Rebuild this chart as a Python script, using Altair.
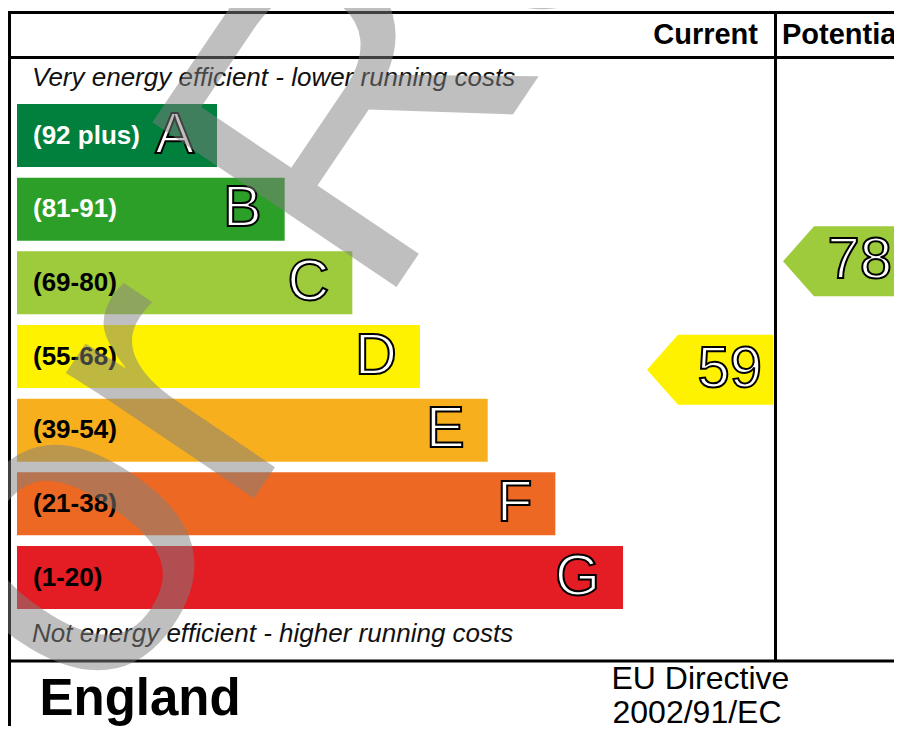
import altair as alt
import pandas as pd

# ---------------- data ----------------
bands = ["A", "B", "C", "D", "E", "F", "G"]
ranges = ["(92 plus)", "(81-91)", "(69-80)", "(55-68)", "(39-54)", "(21-38)", "(1-20)"]
range_lo = [92, 81, 69, 55, 39, 21, 1]
range_hi = [100, 91, 80, 68, 54, 38, 20]
current_rating = 59
potential_rating = 78
headers = ["Current", "Potential"]
top_note = "Very energy efficient - lower running costs"
bottom_note = "Not energy efficient - higher running costs"
country = "England"
directive = ["EU Directive", "2002/91/EC"]
watermark = "For\u2005Reference Only"

# ---------------- styles ----------------
band_colors = ["#007f3d", "#2c9f29", "#9dcb3c", "#fff200", "#f7af1d", "#ed6823", "#e31d23"]
range_text_colors = ["white", "white", "black", "black", "black", "black", "black"]
FONT = "Liberation Sans"

# ---------------- layout (pixel frame of the picture) ----------------
W, H = 886, 718
BAR_X0 = 17
BAR_LEN0 = 200
BAR_STEP = 67.67
ROW_Y0 = 104
ROW_STEP = 73.67
ROW_H = 63
COL_DIV = 775.5
ARROW_HALF_W = 63

xs = alt.Scale(domain=[8, 8 + W], nice=False, zero=False)
ys = alt.Scale(domain=[8, 8 + H], nice=False, zero=False, reverse=True)


def X(f="x"):
    return alt.X(f"{f}:Q", scale=xs, axis=None)


def Y(f="y"):
    return alt.Y(f"{f}:Q", scale=ys, axis=None)


def band_of(v):
    for i, (lo, hi) in enumerate(zip(range_lo, range_hi)):
        if lo <= v <= hi:
            return i
    return len(bands) - 1


def rating_y(v):
    i = band_of(v)
    lo, hi = range_lo[i], range_hi[i]
    mid = (lo + hi) / 2
    return ROW_Y0 + i * ROW_STEP + ROW_H / 2 + (mid - v) / (hi - lo + 1) * ROW_STEP


# bars
bars_df = pd.DataFrame({
    "band": bands,
    "label": ranges,
    "color": band_colors,
    "tcolor": range_text_colors,
    "x": [BAR_X0] * len(bands),
    "x2": [BAR_X0 + BAR_LEN0 + BAR_STEP * i for i in range(len(bands))],
    "y": [ROW_Y0 + ROW_STEP * i for i in range(len(bands))],
    "y2": [ROW_Y0 + ROW_STEP * i + ROW_H for i in range(len(bands))],
})
bars_df["yc"] = (bars_df["y"] + bars_df["y2"]) / 2
bars_df["lx"] = 33
bars_df["bx"] = bars_df["x2"] - 23

bars = alt.Chart(bars_df).mark_rect().encode(
    x=X("x"), x2="x2", y=Y("y"), y2="y2", color=alt.Color("color:N", scale=None)
)
range_text = alt.Chart(bars_df).mark_text(
    align="left", baseline="middle", font=FONT, fontWeight="bold", fontSize=26
).encode(x=X("lx"), y=Y("yc"), text="label:N", color=alt.Color("tcolor:N", scale=None))
band_text = alt.Chart(bars_df).mark_text(
    align="right", baseline="middle", font=FONT, fontSize=58,
    color="white", stroke="black", strokeWidth=2
).encode(x=X("bx"), y=Y("yc"), text="band:N")

# frame lines
lines_df = pd.DataFrame({
    "x": [9, 9, 9, 9.5, COL_DIV],
    "x2": [902, 902, 902, 9.5, COL_DIV],
    "y": [12.5, 57.5, 661, 11, 11],
    "y2": [12.5, 57.5, 661, 738, 661],
})
lines = alt.Chart(lines_df).mark_rule(color="black", strokeWidth=3).encode(
    x=X("x"), x2="x2", y=Y("y"), y2="y2"
)

# headers
head_df = pd.DataFrame({"t": headers, "x": [758, 782], "y": [44, 44]})
head_cur = alt.Chart(head_df.iloc[[0]]).mark_text(
    align="right", baseline="alphabetic", font=FONT, fontWeight="bold", fontSize=29, color="black"
).encode(x=X(), y=Y(), text="t:N")
head_pot = alt.Chart(head_df.iloc[[1]]).mark_text(
    align="left", baseline="alphabetic", font=FONT, fontWeight="bold", fontSize=29, color="black"
).encode(x=X(), y=Y(), text="t:N")

# notes
notes_df = pd.DataFrame({"t": [top_note, bottom_note], "x": [32, 32], "y": [86, 642]})
notes = alt.Chart(notes_df).mark_text(
    align="left", baseline="alphabetic", font=FONT, fontStyle="italic", fontSize=26, color="#111"
).encode(x=X(), y=Y(), text="t:N")

# footer
eng_df = pd.DataFrame({"t": [country], "x": [39.5], "y": [715]})
eng = alt.Chart(eng_df).mark_text(
    align="left", baseline="alphabetic", font=FONT, fontWeight="bold", fontSize=51, color="black"
).encode(x=X(), y=Y(), text="t:N")
dir_df = pd.DataFrame({"t": directive, "x": [611.5, 612.5], "y": [689, 723]})
dirt = alt.Chart(dir_df).mark_text(
    align="left", baseline="alphabetic", font=FONT, fontSize=32, color="black"
).encode(x=X(), y=Y(), text="t:N")

# rating arrows
arrow_path = "M -1.8 0 L -0.914 -1 L 1.8 -1 L 1.8 1 L -0.914 1 Z"
arr_df = pd.DataFrame({
    "v": [current_rating, potential_rating],
    "x": [COL_DIV - 2.5 - ARROW_HALF_W, COL_DIV + 7.5 + ARROW_HALF_W],
    "y": [rating_y(current_rating), rating_y(potential_rating)],
    "color": [band_colors[band_of(current_rating)], band_colors[band_of(potential_rating)]],
})
arr_df["tx"] = [arr_df["x"][0] + 52, min(arr_df["x"][1] + 52, 892)]
arr_df["t"] = arr_df["v"].astype(str)
arrows = alt.Chart(arr_df).mark_point(
    shape=arrow_path, size=4900, filled=True, opacity=1, strokeWidth=0
).encode(x=X(), y=Y(), color=alt.Color("color:N", scale=None))
arrow_text = alt.Chart(arr_df).mark_text(
    align="right", baseline="middle", font=FONT, fontSize=58,
    color="white", stroke="black", strokeWidth=2
).encode(x=X("tx"), y=Y(), text="t:N")

# watermark
wm_df = pd.DataFrame({"t": [watermark], "x": [-42], "y": [937]})
wm = alt.Chart(wm_df).mark_text(
    align="left", baseline="alphabetic", font=FONT, fontSize=428, angle=304,
    color="#808080", opacity=0.5
).encode(x=X(), y=Y(), text="t:N")

chart = alt.layer(
    bars, range_text, band_text, lines, head_cur, head_pot, notes, eng, dirt,
    arrows, arrow_text, wm
).properties(
    width=W, height=H, padding=0, autosize=alt.AutoSizeParams(type="none"), background="white"
).configure_view(stroke=None)

chart.save("out.html", embed_options={"renderer": "svg", "actions": False})
